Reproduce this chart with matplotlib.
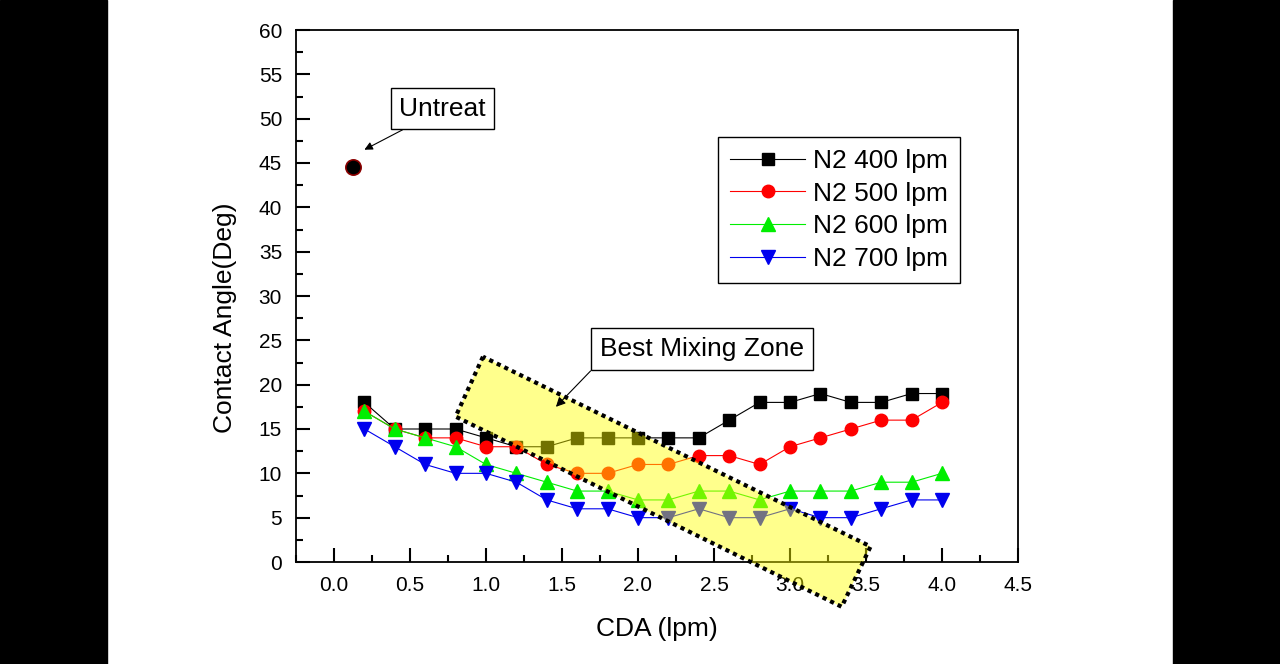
import numpy as np
import matplotlib.pyplot as plt
from matplotlib.patches import Polygon, Rectangle
from matplotlib.ticker import MultipleLocator

plt.rcParams['font.family'] = ['Liberation Sans', 'DejaVu Sans']

### data
cda = [0.2, 0.4, 0.6, 0.8, 1.0, 1.2, 1.4, 1.6, 1.8, 2.0,
       2.2, 2.4, 2.6, 2.8, 3.0, 3.2, 3.4, 3.6, 3.8, 4.0]
n2_400 = [18, 15, 15, 15, 14, 13, 13, 14, 14, 14, 14, 14, 16, 18, 18, 19, 18, 18, 19, 19]
n2_500 = [17, 15, 14, 14, 13, 13, 11, 10, 10, 11, 11, 12, 12, 11, 13, 14, 15, 16, 16, 18]
n2_600 = [17, 15, 14, 13, 11, 10, 9, 8, 8, 7, 7, 8, 8, 7, 8, 8, 8, 9, 9, 10]
n2_700 = [15, 13, 11, 10, 10, 9, 7, 6, 6, 5, 5, 6, 5, 5, 6, 5, 5, 6, 7, 7]
untreat_x = [0.125]
untreat_y = [44.6]

# corners of the "best mixing zone" band (data units)
zone_x = [0.98, 0.80, 3.34, 3.53]
zone_y = [23.15, 16.4, -5.05, 1.75]

fig = plt.figure(figsize=(12.8, 6.64), dpi=100)
# black side bars
fig.patches.append(Rectangle((0, 0), 107 / 1280, 1, transform=fig.transFigure, color='black', zorder=0))
fig.patches.append(Rectangle((1173 / 1280, 0), 107 / 1280, 1, transform=fig.transFigure, color='black', zorder=0))

ax = fig.add_axes([296 / 1280, 102 / 664, 722 / 1280, 532 / 664])

ax.plot(cda, n2_400, color='black', marker='s', ms=8, lw=0.8, label='N2 400 lpm')
ax.plot(cda, n2_500, color='red', marker='o', ms=9, lw=0.8, label='N2 500 lpm')
ax.plot(cda, n2_600, color='#00ee00', marker='^', ms=10, lw=0.8, label='N2 600 lpm')
ax.plot(cda, n2_700, color='#0000ee', marker='v', ms=10, lw=0.8, label='N2 700 lpm')
ax.plot(untreat_x, untreat_y, 'o', color='black', mec='#8b0000', ms=11, mew=1.2)

zone = Polygon(list(zip(zone_x, zone_y)), closed=True, facecolor='yellow', alpha=0.45,
               edgecolor='none', zorder=5, clip_on=False)
ax.add_patch(zone)
zone_edge = Polygon(list(zip(zone_x, zone_y)), closed=True, facecolor='none', edgecolor='black',
                    linestyle=(0, (1, 1)), lw=3, zorder=6, clip_on=False)
ax.add_patch(zone_edge)

ax.annotate('Untreat', xy=(0.2, 46.5), xytext=(0.43, 51.1), fontsize=19,
            bbox=dict(boxstyle='square,pad=0.32', fc='white', ec='black', lw=1),
            arrowprops=dict(arrowstyle='-|>', color='black', lw=0.8, mutation_scale=12,
                            shrinkA=0, shrinkB=0),
            ha='left', va='center')
ax.annotate('Best Mixing Zone', xy=(1.46, 17.5), xytext=(1.75, 24.0), fontsize=19,
            bbox=dict(boxstyle='square,pad=0.35', fc='white', ec='black', lw=1),
            arrowprops=dict(arrowstyle='-|>', color='black', lw=0.8, mutation_scale=14,
                            shrinkA=0, shrinkB=0, relpos=(0, 0)),
            ha='left', va='center', zorder=7)

ax.set_xlim(-0.25, 4.5)
ax.set_ylim(0, 60)
ax.xaxis.set_major_locator(MultipleLocator(0.5))
ax.xaxis.set_minor_locator(MultipleLocator(0.25))
ax.yaxis.set_major_locator(MultipleLocator(5))
ax.yaxis.set_minor_locator(MultipleLocator(2.5))
ax.set_xticks(np.arange(0, 4.51, 0.5))
ax.set_xticklabels(['%.1f' % v for v in np.arange(0, 4.51, 0.5)])
ax.tick_params(which='major', direction='in', length=10, width=1.5, labelsize=15, pad=10)
ax.tick_params(which='minor', direction='in', length=5, width=1.5)
for s in ax.spines.values():
    s.set_linewidth(1.3)

ax.set_xlabel('CDA (lpm)', fontsize=19)
ax.set_ylabel('Contact Angle(Deg)', fontsize=19)
ax.xaxis.set_label_coords(0.5, -0.103)
ax.yaxis.set_label_coords(-0.082, 0.459)

leg = ax.legend(loc='upper right', bbox_to_anchor=(0.92, 0.799), fontsize=19, fancybox=False,
                edgecolor='black', framealpha=1, handlelength=2.85, borderpad=0.45,
                labelspacing=0.33, handletextpad=0.3, borderaxespad=0)
leg.get_frame().set_linewidth(1)

fig.savefig('out.png', dpi=100)
